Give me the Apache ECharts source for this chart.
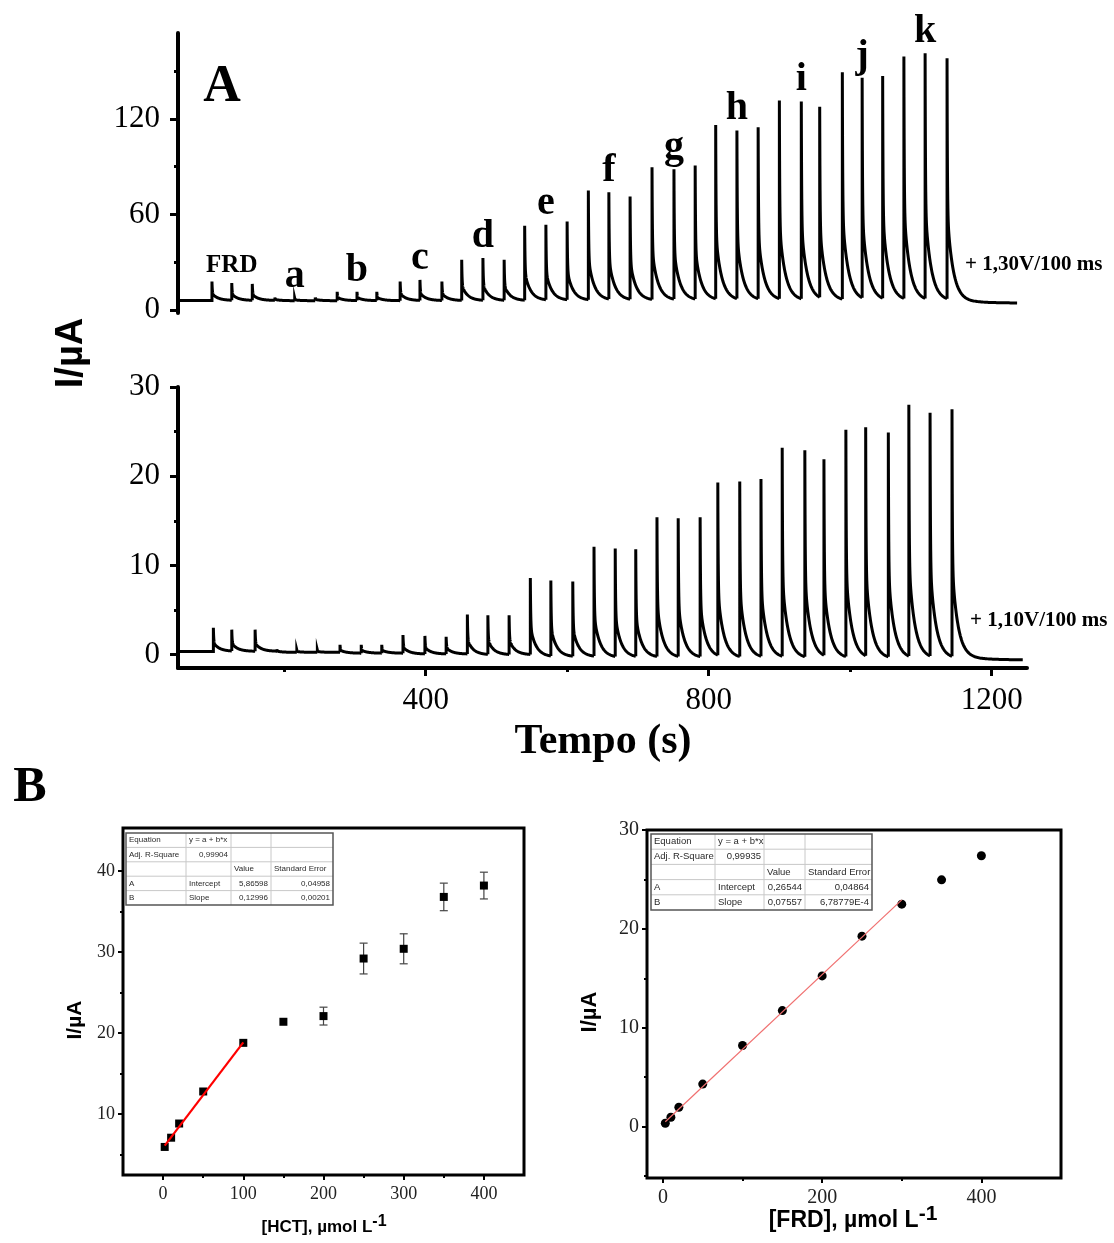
<!DOCTYPE html>
<html>
<head>
<meta charset="utf-8">
<script src="https://cdn.jsdelivr.net/npm/echarts@6.0.0/dist/echarts.min.js"></script>
<style>
  html, body { margin: 0; padding: 0; background: #fff; }
  #chart { width: 1114px; height: 1243px; }
</style>
</head>
<body>
<div id="chart"></div>
<script>
// ---------- Panel A: amperometric record, time (s) vs current (µA) ----------
const groupLabels = ['FRD', 'a', 'b', 'c', 'd', 'e', 'f', 'g', 'h', 'i', 'j', 'k'];

// +1,30 V pulse: injection times and peak currents (three injections per group)
const timesTop = [98, 126, 155, 187, 215, 244, 275, 303, 331, 364, 392, 423,
  451, 481, 511, 540, 570, 600, 630, 659, 689, 720, 751, 781,
  810, 840, 870, 900, 931, 957, 989, 1017, 1046, 1076, 1106, 1137];
const peaksTop = [17.8, 16.9, 16.3, 7.8, 7.2, 7.8, 11.3, 11.3, 11.3, 17.8, 18.8, 17.8,
  31.4, 32.6, 31.4, 52.8, 53.4, 55.5, 75.0, 73.9, 71.2, 89.6, 88.4, 90.7,
  116.2, 112.7, 114.8, 131.5, 130.9, 127.7, 149.3, 145.9, 147.0, 159.2, 161.3, 158.1];
const baseTop = [5.8, 5.7, 5.7, 5.7, 5.6, 5.6, 5.6, 5.5, 5.3, 5.1, 4.9, 4.7];
const tailTop = [1236, 4.2];

// +1,10 V pulse
const timesBottom = [100, 126, 159, 190, 218, 247, 279, 309, 338, 368, 399, 429,
  459, 488, 518, 548, 577, 608, 638, 668, 697, 727, 757, 788,
  813, 844, 874, 904, 936, 963, 994, 1022, 1054, 1083, 1113, 1144];
const peaksBottom = [3.0, 2.8, 2.8, 0.6, 0.5, 0.5, 1.1, 1.1, 1.1, 2.2, 2.1, 2.0,
  4.5, 4.4, 4.4, 8.6, 8.3, 8.2, 12.1, 11.9, 11.8, 15.4, 15.3, 15.4,
  19.3, 19.4, 19.7, 23.2, 22.9, 21.9, 25.2, 25.5, 24.9, 28.0, 27.1, 27.5];
const baseBottom = [0.35, 0.25, 0.15, 0.05, -0.05, -0.3, -0.4, -0.45, -0.5, -0.55, -0.6, -0.6];
const tailBottom = [1244, -0.6];

const traceStart = 52;

const timeTicks = [400, 800, 1200];
const timeMinorTicks = [200, 600, 1000];
const topTicks = [0, 60, 120];
const topMinorTicks = [30, 90, 150];
const bottomTicks = [0, 10, 20, 30];
const bottomMinorTicks = [5, 15, 25];

// ---------- Panel B: calibration plots ----------
const hctConc = [2, 10, 20, 50, 100, 150, 200, 250, 300, 350, 400];
const hctCurrent = [5.96, 7.1, 8.85, 12.8, 18.8, 21.4, 22.1, 29.2, 30.4, 36.8, 38.2];
const hctError = [0, 0, 0, 0, 0, 0, 1.1, 1.9, 1.85, 1.7, 1.65];
const hctFit = [5.86598, 0.12996];          // intercept, slope
const hctFitError = [0.04958, 0.00201];
const hctAdjR2 = [0.99904];
const hctFitRange = [2, 100];

const frdConc = [3, 10, 20, 50, 100, 150, 200, 250, 300, 350, 400];
const frdCurrent = [0.34, 0.95, 1.96, 4.3, 8.2, 11.73, 15.24, 19.26, 22.5, 24.96, 27.4];
const frdFit = [0.26544, 0.07557];
const frdFitError = [0.04864, 6.78779e-4];
const frdAdjR2 = [0.99935];
const frdFitRange = [3, 300];

const hctXTicks = [0, 100, 200, 300, 400];
const hctXMinor = [50, 150, 250, 350];
const hctYTicks = [10, 20, 30, 40];
const hctYMinor = [5, 15, 25, 35];
const frdXTicks = [0, 200, 400];
const frdXMinor = [100, 300];
const frdYTicks = [0, 10, 20, 30];
const frdYMinor = [-5, 5, 15, 25];

const SERIF = "'Liberation Serif', 'Times New Roman', serif";
const SANS = "'Liberation Sans', Arial, sans-serif";

// current transient after each pulse: fast charging part + slower tail
const decayWeights = [0.62, 0.36, 0.02];
const decayTaus = [0.5, 8, 30];
function decayFraction(dt) {
  let s = 0;
  for (let i = 0; i < decayWeights.length; i++) s += decayWeights[i] * Math.exp(-dt / decayTaus[i]);
  return s;
}

// rows: [time, peak, end of transient, level it relaxes to, level it starts from]
function pulseRows(times, peaks, bases, tail) {
  const rows = [];
  let level = bases[0];
  for (let i = 0; i < times.length; i++) {
    const last = i === times.length - 1;
    const base = last ? tail[1] : bases[Math.floor(i / 3)];
    const tEnd = last ? tail[0] : times[i + 1];
    rows.push([times[i], peaks[i], tEnd, base, level]);
    level = base + (peaks[i] - base) * decayFraction(tEnd - times[i]);
  }
  return rows;
}

function renderPulse(params, api) {
  const t = api.value(0), h = api.value(1), tEnd = api.value(2), base = api.value(3), start = api.value(4);
  const pts = [];
  if (params.dataIndex === 0) pts.push(api.coord([traceStart, start]));
  pts.push(api.coord([t, start]));
  pts.push(api.coord([t, h]));
  const n = 90;
  for (let k = 1; k <= n; k++) {
    const dt = (tEnd - t) * Math.pow(k / n, 2.2);
    pts.push(api.coord([t + dt, base + (h - base) * decayFraction(dt)]));
  }
  return {
    type: 'polyline',
    shape: { points: pts },
    style: { stroke: '#000', lineWidth: 3, fill: null }
  };
}

function renderErrorBar(params, api) {
  const x = api.value(0), y = api.value(1), e = api.value(2);
  if (!e) return null;
  const top = api.coord([x, y + e]);
  const bot = api.coord([x, y - e]);
  const cap = 4;
  const st = { stroke: '#444', lineWidth: 1.2 };
  return {
    type: 'group',
    children: [
      { type: 'line', shape: { x1: top[0], y1: top[1], x2: bot[0], y2: bot[1] }, style: st },
      { type: 'line', shape: { x1: top[0] - cap, y1: top[1], x2: top[0] + cap, y2: top[1] }, style: st },
      { type: 'line', shape: { x1: bot[0] - cap, y1: bot[1], x2: bot[0] + cap, y2: bot[1] }, style: st }
    ]
  };
}

// one axis with line, long ticks and labels + a companion carrying the short ticks
function axisPair(o) {
  const common = {
    type: 'value', gridIndex: o.grid, min: o.min, max: o.max, position: o.position,
    splitLine: { show: false }
  };
  const main = Object.assign({}, common, {
    axisLine: { show: !!o.line, onZero: false, lineStyle: { color: '#000', width: o.lineWidth || 3 } },
    axisTick: { show: true, inside: false, length: o.tickLen, customValues: o.ticks,
      lineStyle: { color: '#000', width: o.tickWidth } },
    axisLabel: { show: true, customValues: o.ticks, margin: o.margin, fontFamily: SERIF,
      fontSize: o.fontSize, color: o.labelColor || '#000', formatter: v => String(v) }
  });
  const minor = Object.assign({}, common, {
    axisLine: { show: false, onZero: false },
    axisTick: { show: true, inside: false, length: o.minorLen, customValues: o.minor,
      lineStyle: { color: '#000', width: o.tickWidth } },
    axisLabel: { show: false }
  });
  return [main, minor];
}

function fmt(v) {
  const s = v < 1e-3 ? v.toExponential(5).replace('e', 'E') : v.toFixed(5);
  return s.replace('.', ',');
}

function fitRows(fit, err, r2) {
  return [
    ['Equation', 'y = a + b*x', '', ''],
    ['Adj. R-Square', fmt(r2[0]), '', ''],
    ['', '', 'Value', 'Standard Error'],
    ['A', 'Intercept', fmt(fit[0]), fmt(err[0])],
    ['B', 'Slope', fmt(fit[1]), fmt(err[1])]
  ];
}

function fitTable(colX, rowY, fontSize, rows) {
  const children = [];
  const x0 = colX[0], x1 = colX[colX.length - 1], y0 = rowY[0], y1 = rowY[rowY.length - 1];
  children.push({ type: 'rect', shape: { x: x0, y: y0, width: x1 - x0, height: y1 - y0 },
    style: { fill: '#fff', stroke: null } });
  for (let r = 1; r < rowY.length - 1; r++) {
    children.push({ type: 'line', shape: { x1: x0, y1: rowY[r], x2: x1, y2: rowY[r] },
      style: { stroke: '#c8c8c8', lineWidth: 1 } });
  }
  for (let c = 1; c < colX.length - 1; c++) {
    children.push({ type: 'line', shape: { x1: colX[c], y1: y0, x2: colX[c], y2: y1 },
      style: { stroke: '#c8c8c8', lineWidth: 1 } });
  }
  children.push({ type: 'rect', shape: { x: x0, y: y0, width: x1 - x0, height: y1 - y0 },
    style: { fill: null, stroke: '#555', lineWidth: 1.5 } });
  rows.forEach((row, r) => {
    row.forEach((txt, c) => {
      if (!txt) return;
      const numeric = /^[0-9,E\-]+$/.test(txt);
      children.push({
        type: 'text',
        x: numeric ? colX[c + 1] - 3 : colX[c] + 3,
        y: (rowY[r] + rowY[r + 1]) / 2,
        style: { text: txt, fontFamily: SANS, fontSize: fontSize, fill: '#2a2a2a',
          align: numeric ? 'right' : 'left', verticalAlign: 'middle',
          textAlign: numeric ? 'right' : 'left', textVerticalAlign: 'middle' }
      });
    });
  });
  return { type: 'group', children: children };
}

function text(x, y, str, font, opts) {
  opts = opts || {};
  return {
    type: 'text', x: x, y: y, rotation: opts.rotation || 0,
    style: Object.assign({
      text: str, fill: '#000',
      align: opts.align || 'center', verticalAlign: 'middle',
      textAlign: opts.align || 'center', textVerticalAlign: 'middle'
    }, font)
  };
}

// ---------- axes ----------
const xAxes = [
  { type: 'value', gridIndex: 0, min: 50, max: 1250, show: false },
  ...axisPair({ grid: 1, min: 50, max: 1250, position: 'bottom', line: true, lineWidth: 4,
    ticks: timeTicks, minor: timeMinorTicks, tickLen: 8, minorLen: 4, tickWidth: 3,
    margin: 17, fontSize: 31 }),
  ...axisPair({ grid: 2, min: -50, max: 450, position: 'bottom', line: false,
    ticks: hctXTicks, minor: hctXMinor, tickLen: 5, minorLen: 3, tickWidth: 2,
    margin: 10, fontSize: 18, labelColor: '#222' }),
  ...axisPair({ grid: 3, min: -20, max: 500, position: 'bottom', line: false,
    ticks: frdXTicks, minor: frdXMinor, tickLen: 5, minorLen: 3, tickWidth: 2,
    margin: 10, fontSize: 20, labelColor: '#222' })
];
const yAxes = [
  ...axisPair({ grid: 0, min: -2, max: 174, position: 'left', line: true, lineWidth: 4,
    ticks: topTicks, minor: topMinorTicks, tickLen: 8, minorLen: 4, tickWidth: 3,
    margin: 18, fontSize: 31 }),
  ...axisPair({ grid: 1, min: -1.5, max: 30, position: 'left', line: true, lineWidth: 4,
    ticks: bottomTicks, minor: bottomMinorTicks, tickLen: 8, minorLen: 4, tickWidth: 3,
    margin: 18, fontSize: 31 }),
  ...axisPair({ grid: 2, min: 2.5, max: 45.3, position: 'left', line: false,
    ticks: hctYTicks, minor: hctYMinor, tickLen: 5, minorLen: 3, tickWidth: 2,
    margin: 8, fontSize: 18, labelColor: '#222' }),
  ...axisPair({ grid: 3, min: -5.2, max: 30, position: 'left', line: false,
    ticks: frdYTicks, minor: frdYMinor, tickLen: 5, minorLen: 3, tickWidth: 2,
    margin: 8, fontSize: 20, labelColor: '#222' })
];

const frame = { show: true, borderColor: '#000', borderWidth: 3, backgroundColor: 'transparent' };

const option = {
  backgroundColor: '#fff',
  animation: false,
  grid: [
    { left: 178, top: 33, width: 849, height: 280, outerBoundsMode: 'none' },
    { left: 178, top: 387, width: 849, height: 281, outerBoundsMode: 'none' },
    Object.assign({ left: 123, top: 828, width: 401, height: 347, outerBoundsMode: 'none' }, frame),
    Object.assign({ left: 647, top: 830, width: 414, height: 348, outerBoundsMode: 'none' }, frame)
  ],
  xAxis: xAxes,
  yAxis: yAxes,
  series: [
    { type: 'custom', name: '+1,30 V', xAxisIndex: 0, yAxisIndex: 0, renderItem: renderPulse,
      data: pulseRows(timesTop, peaksTop, baseTop, tailTop), silent: true },
    { type: 'custom', name: '+1,10 V', xAxisIndex: 1, yAxisIndex: 2, renderItem: renderPulse,
      data: pulseRows(timesBottom, peaksBottom, baseBottom, tailBottom), silent: true },
    { type: 'scatter', name: 'groups', xAxisIndex: 0, yAxisIndex: 0, symbolSize: 1,
      itemStyle: { color: 'rgba(0,0,0,0)', opacity: 1 }, silent: true,
      data: groupLabels.map((g, i) => ({
        value: [timesTop[3 * i + 1], peaksTop[3 * i + 1]],
        label: g === 'FRD' ? { fontSize: 25, distance: 4 } : {}
      })),
      label: { show: true, position: 'top', distance: 1, formatter: p => groupLabels[p.dataIndex],
        fontFamily: SERIF, fontWeight: 'bold', fontSize: 40, color: '#000', opacity: 1 } },
    { type: 'line', name: 'HCT fit', xAxisIndex: 3, yAxisIndex: 4, showSymbol: false, symbol: 'none',
      lineStyle: { color: '#ff0000', width: 2.2 },
      data: hctFitRange.map(x => [x, hctFit[0] + hctFit[1] * x]) },
    { type: 'custom', name: 'HCT error', xAxisIndex: 3, yAxisIndex: 4, renderItem: renderErrorBar,
      data: hctConc.map((x, i) => [x, hctCurrent[i], hctError[i]]) },
    { type: 'scatter', name: 'HCT', xAxisIndex: 3, yAxisIndex: 4, symbol: 'rect', symbolSize: 8,
      itemStyle: { color: '#000', opacity: 1 }, data: hctConc.map((x, i) => [x, hctCurrent[i]]) },
    { type: 'line', name: 'FRD fit', xAxisIndex: 5, yAxisIndex: 6, showSymbol: false, symbol: 'none',
      lineStyle: { color: '#f07070', width: 1.2 },
      data: frdFitRange.map(x => [x, frdFit[0] + frdFit[1] * x]) },
    { type: 'scatter', name: 'FRD', xAxisIndex: 5, yAxisIndex: 6, symbol: 'circle', symbolSize: 9,
      itemStyle: { color: '#000', opacity: 1 }, data: frdConc.map((x, i) => [x, frdCurrent[i]]) }
  ],
  graphic: [
    text(222, 88, 'A', { fontFamily: SERIF, fontWeight: 'bold', fontSize: 52 }),
    text(30, 788, 'B', { fontFamily: SERIF, fontWeight: 'bold', fontSize: 50 }),
    text(965, 265, '+ 1,30V/100 ms', { fontFamily: SERIF, fontWeight: 'bold', fontSize: 21 }, { align: 'left' }),
    text(970, 621, '+ 1,10V/100 ms', { fontFamily: SERIF, fontWeight: 'bold', fontSize: 21 }, { align: 'left' }),
    text(72, 353, 'I/µA', { fontFamily: SANS, fontWeight: 'bold', fontSize: 38 }, { rotation: Math.PI / 2 }),
    text(603, 742, 'Tempo (s)', { fontFamily: SERIF, fontWeight: 'bold', fontSize: 42 }),
    text(75, 1020, 'I/µA', { fontFamily: SANS, fontWeight: 'bold', fontSize: 21 }, { rotation: Math.PI / 2 }),
    text(590, 1012, 'I/µA', { fontFamily: SANS, fontWeight: 'bold', fontSize: 22 }, { rotation: Math.PI / 2 }),
    {
      type: 'text', x: 324, y: 1227,
      style: { text: '{b|[HCT], µmol L}{s|-1}', align: 'center', verticalAlign: 'middle',
        textAlign: 'center', textVerticalAlign: 'middle',
        rich: {
          b: { fontFamily: SANS, fontWeight: 'bold', fontSize: 17, lineHeight: 26, verticalAlign: 'middle', fill: '#000', color: '#000' },
          s: { fontFamily: SANS, fontWeight: 'bold', fontSize: 16, lineHeight: 14, verticalAlign: 'top', fill: '#000', color: '#000' }
        } }
    },
    {
      type: 'text', x: 853, y: 1221,
      style: { text: '{b|[FRD], µmol L}{s|-1}', align: 'center', verticalAlign: 'middle',
        textAlign: 'center', textVerticalAlign: 'middle',
        rich: {
          b: { fontFamily: SANS, fontWeight: 'bold', fontSize: 23, lineHeight: 34, verticalAlign: 'middle', fill: '#000', color: '#000' },
          s: { fontFamily: SANS, fontWeight: 'bold', fontSize: 21, lineHeight: 18, verticalAlign: 'top', fill: '#000', color: '#000' }
        } }
    },
    fitTable([126, 186, 231, 271, 333], [833, 847.4, 861.8, 876.2, 890.6, 905], 8,
      fitRows(hctFit, hctFitError, hctAdjR2)),
    fitTable([651, 715, 764, 805, 872], [834, 849.2, 864.4, 879.6, 894.8, 910], 9.5,
      fitRows(frdFit, frdFitError, frdAdjR2))
  ]
};

const chart = echarts.init(document.getElementById('chart'));
chart.setOption(option);
</script>
</body>
</html>
